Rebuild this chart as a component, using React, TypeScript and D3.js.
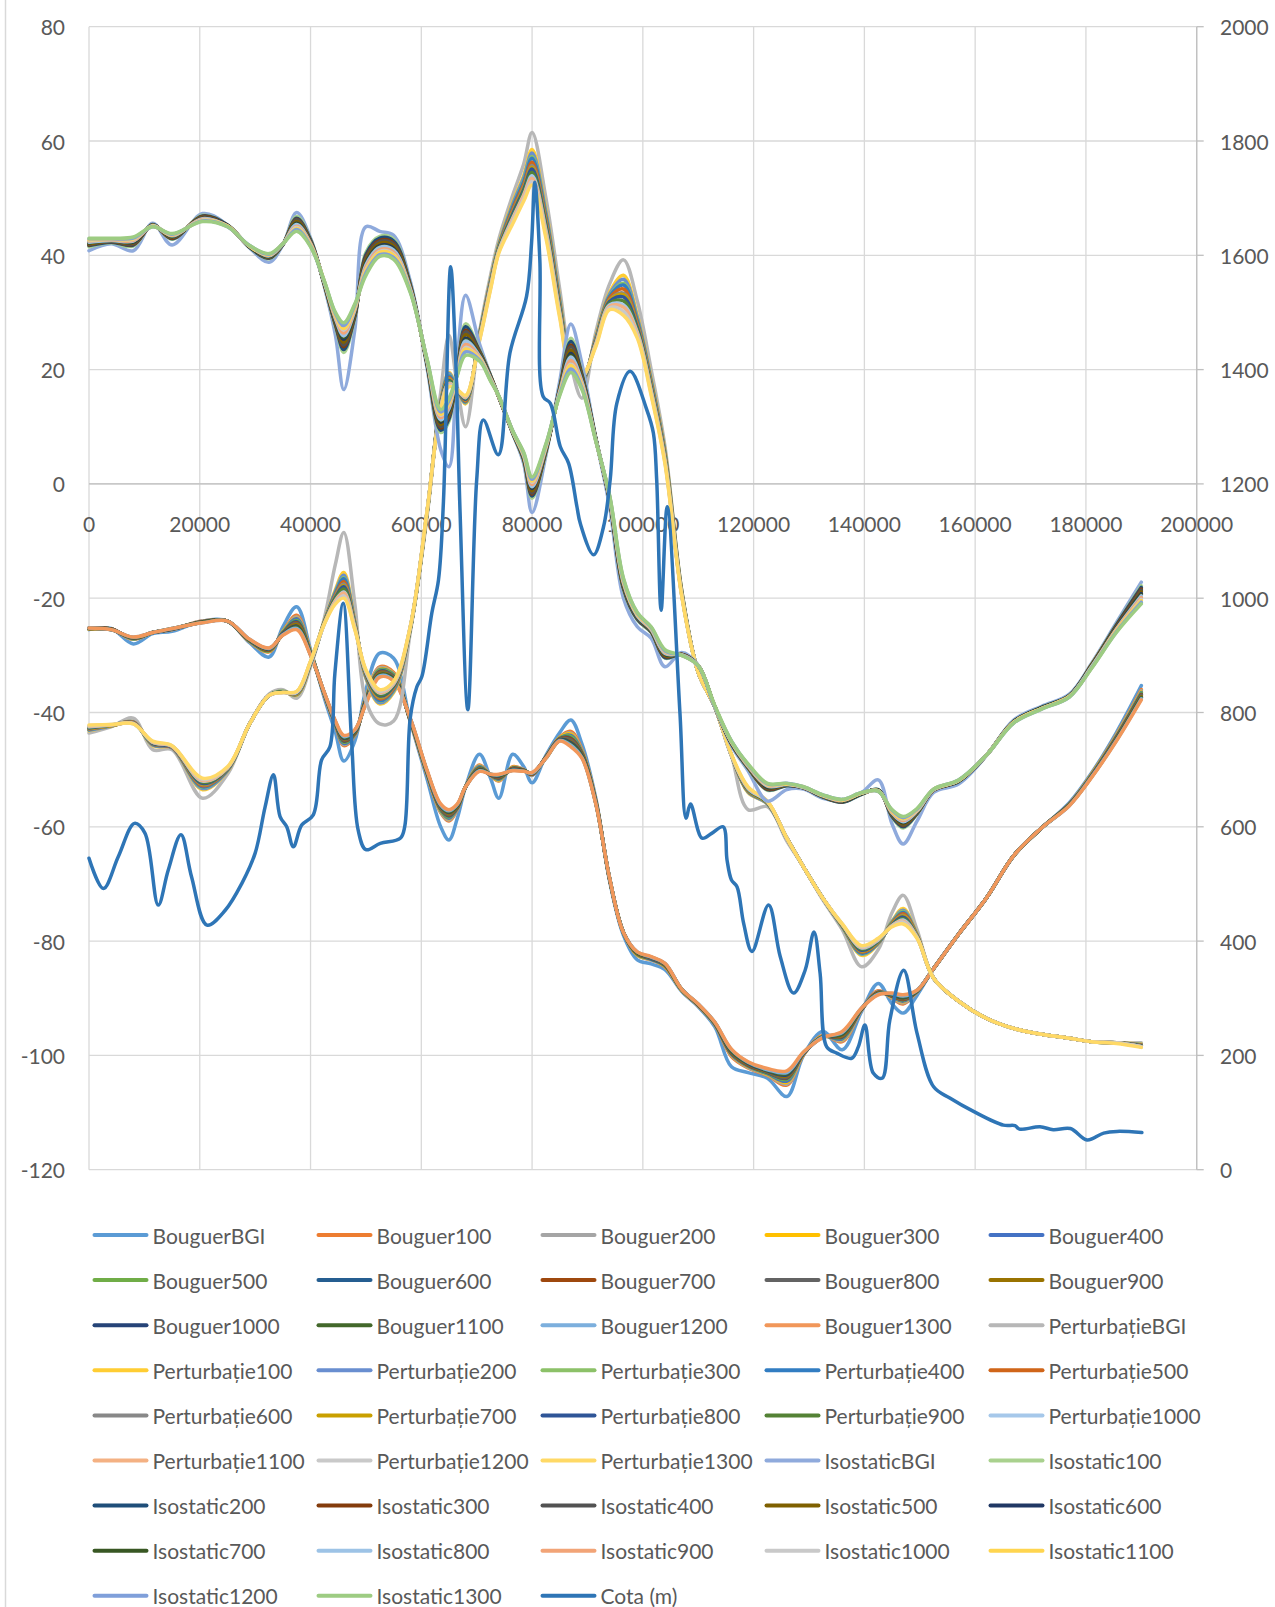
import React, { useEffect, useRef } from "react";
import * as d3 from "d3";

const W = 1275;
const H = 1607;

// distance along the profile (m), shared by the gravity series
const distance = [
  0, 4000, 8000, 11500, 15000, 20500, 25000, 29000, 32500, 35000,
  37500, 40000, 42500, 44500, 46000, 48000, 50000, 52500, 55000, 58000,
  61000, 63500, 65000, 66500, 68000, 70500, 72500, 74000, 76500, 78500,
  80000, 82500, 85000, 87000, 89000, 91500, 94000, 96500, 99000, 101500,
  104000, 107000, 110000, 113000, 116000, 119000, 122500, 126000, 129000, 132500,
  136000, 139500, 142500, 145000, 147000, 149500, 152500, 157000, 162000, 167000,
  172000, 177000, 181000, 185500, 190000,
];

const levels = ["BGI", "100", "200", "300", "400", "500", "600", "700", "800", "900", "1000", "1100", "1200", "1300"];

const bouguerColors = ["#5B9BD5", "#ED7D31", "#A5A5A5", "#FFC000", "#4472C4", "#70AD47", "#255E91", "#9E480E", "#636363", "#997300", "#264478", "#43682B", "#7CAFDD", "#F1975A"];
const perturbatieColors = ["#B7B7B7", "#FFCD33", "#698ED0", "#8CC168", "#327DC2", "#D06519", "#888888", "#C9A000", "#2F5597", "#548235", "#A6C8EA", "#F4B183", "#C9C9C9", "#FFD966"];
const isostaticColors = ["#8FAADC", "#A9D18E", "#1F4E79", "#843C0C", "#525252", "#7F6000", "#203864", "#385723", "#9DC3E6", "#F2A477", "#C9C9C9", "#FFD54F", "#7F9FDA", "#9DCC82"];
const cotaColor = "#2E75B6";

// one row per distance: BGI, 100 ... 1300
const bouguerRows = [
  [-25.5, -25.4, -25.4, -25.4, -25.3, -25.3, -25.3, -25.3, -25.3, -25.3, -25.2, -25.2, -25.2, -25.2],
  [-25.3, -25.4, -25.4, -25.4, -25.4, -25.4, -25.4, -25.4, -25.5, -25.5, -25.5, -25.5, -25.5, -25.5],
  [-28.0, -27.2, -27.2, -27.1, -27.1, -27.1, -27.0, -27.0, -27.0, -26.9, -26.9, -26.9, -26.8, -26.8],
  [-26.2, -26.0, -26.0, -26.0, -26.0, -26.0, -26.0, -26.0, -26.0, -26.0, -26.0, -26.0, -26.0, -26.0],
  [-25.8, -25.5, -25.5, -25.5, -25.5, -25.4, -25.4, -25.4, -25.4, -25.4, -25.4, -25.3, -25.3, -25.3],
  [-24.0, -24.0, -24.0, -24.1, -24.1, -24.1, -24.1, -24.1, -24.2, -24.2, -24.2, -24.2, -24.3, -24.3],
  [-24.0, -24.0, -24.0, -24.0, -24.0, -24.0, -24.0, -24.0, -24.0, -24.0, -24.0, -24.0, -24.0, -24.0],
  [-27.8, -27.6, -27.6, -27.5, -27.5, -27.5, -27.4, -27.4, -27.4, -27.3, -27.3, -27.3, -27.2, -27.2],
  [-30.3, -29.4, -29.3, -29.3, -29.2, -29.2, -29.1, -29.1, -29.0, -29.0, -28.9, -28.8, -28.8, -28.7],
  [-25.0, -25.8, -25.9, -25.9, -26.0, -26.0, -26.1, -26.2, -26.2, -26.3, -26.3, -26.4, -26.4, -26.5],
  [-21.5, -23.0, -23.3, -23.5, -23.6, -23.9, -24.1, -24.3, -24.4, -24.6, -24.9, -25.0, -25.3, -25.5],
  [-29.0, -29.3, -29.4, -29.4, -29.5, -29.5, -29.6, -29.7, -29.7, -29.8, -29.8, -29.9, -29.9, -30.0],
  [-37.5, -37.0, -37.0, -36.9, -36.9, -36.8, -36.8, -36.8, -36.7, -36.7, -36.6, -36.6, -36.6, -36.5],
  [-43.5, -42.3, -42.2, -42.1, -42.1, -42.0, -41.9, -41.9, -41.9, -41.8, -41.7, -41.7, -41.6, -41.5],
  [-48.5, -45.8, -45.6, -45.4, -45.4, -45.2, -45.0, -44.9, -44.8, -44.6, -44.5, -44.4, -44.2, -44.0],
  [-45.0, -44.0, -43.9, -43.8, -43.8, -43.7, -43.6, -43.6, -43.5, -43.4, -43.3, -43.2, -43.1, -43.0],
  [-36.0, -37.3, -37.4, -37.5, -37.6, -37.7, -37.8, -37.9, -38.0, -38.1, -38.2, -38.3, -38.4, -38.5],
  [-29.6, -32.0, -32.2, -32.4, -32.5, -32.6, -32.8, -32.9, -33.0, -33.2, -33.4, -33.4, -33.6, -33.8],
  [-30.5, -33.0, -33.2, -33.3, -33.4, -33.5, -33.7, -33.8, -33.8, -34.0, -34.1, -34.2, -34.4, -34.5],
  [-41.5, -41.5, -41.5, -41.4, -41.4, -41.3, -41.3, -41.3, -41.2, -41.2, -41.1, -41.1, -41.0, -41.0],
  [-51.5, -50.8, -50.7, -50.6, -50.6, -50.5, -50.4, -50.4, -50.4, -50.3, -50.2, -50.2, -50.1, -50.0],
  [-60.0, -57.5, -57.4, -57.2, -57.1, -57.0, -56.8, -56.8, -56.7, -56.5, -56.4, -56.3, -56.2, -56.0],
  [-62.3, -59.0, -58.8, -58.6, -58.5, -58.3, -58.1, -58.0, -57.9, -57.7, -57.5, -57.4, -57.2, -57.0],
  [-58.5, -57.0, -56.9, -56.8, -56.8, -56.7, -56.6, -56.6, -56.5, -56.4, -56.3, -56.2, -56.1, -56.0],
  [-53.0, -53.0, -53.0, -53.0, -53.0, -53.0, -53.0, -53.0, -53.0, -53.0, -53.0, -53.0, -53.0, -53.0],
  [-47.3, -49.2, -49.3, -49.4, -49.5, -49.6, -49.7, -49.8, -49.8, -49.9, -50.0, -50.1, -50.2, -50.3],
  [-51.5, -51.0, -51.0, -51.0, -51.0, -50.9, -50.9, -50.9, -50.9, -50.9, -50.9, -50.8, -50.8, -50.8],
  [-55.0, -52.0, -51.9, -51.8, -51.7, -51.6, -51.5, -51.4, -51.3, -51.2, -51.1, -51.0, -50.9, -50.8],
  [-47.3, -49.5, -49.6, -49.6, -49.7, -49.7, -49.8, -49.8, -49.9, -50.0, -50.0, -50.1, -50.1, -50.2],
  [-49.5, -50.0, -50.0, -50.1, -50.1, -50.1, -50.1, -50.1, -50.2, -50.2, -50.2, -50.2, -50.3, -50.3],
  [-52.3, -51.0, -51.0, -50.9, -50.9, -50.8, -50.8, -50.8, -50.7, -50.7, -50.6, -50.6, -50.6, -50.5],
  [-47.5, -47.8, -47.8, -47.8, -47.8, -47.8, -47.8, -47.8, -47.9, -47.9, -47.9, -48.0, -48.0, -48.0],
  [-43.5, -44.3, -44.4, -44.4, -44.5, -44.5, -44.6, -44.6, -44.7, -44.8, -44.8, -44.9, -44.9, -45.0],
  [-41.3, -43.3, -43.6, -43.8, -44.0, -44.2, -44.5, -44.6, -44.8, -45.1, -45.3, -45.5, -45.7, -46.0],
  [-45.5, -46.5, -46.7, -46.8, -46.9, -47.0, -47.2, -47.2, -47.3, -47.5, -47.6, -47.7, -47.9, -48.0],
  [-55.0, -55.3, -55.4, -55.4, -55.5, -55.5, -55.6, -55.6, -55.7, -55.8, -55.8, -55.9, -55.9, -56.0],
  [-69.5, -69.2, -69.2, -69.2, -69.2, -69.1, -69.1, -69.1, -69.1, -69.1, -69.1, -69.0, -69.0, -69.0],
  [-79.0, -78.5, -78.5, -78.5, -78.5, -78.5, -78.5, -78.5, -78.5, -78.5, -78.5, -78.5, -78.5, -78.5],
  [-83.3, -82.5, -82.4, -82.4, -82.3, -82.3, -82.2, -82.2, -82.1, -82.1, -82.0, -82.0, -81.9, -81.9],
  [-84.0, -83.3, -83.3, -83.2, -83.2, -83.1, -83.1, -83.0, -83.0, -82.9, -82.9, -82.8, -82.8, -82.7],
  [-85.0, -84.5, -84.4, -84.4, -84.3, -84.3, -84.2, -84.2, -84.1, -84.1, -84.0, -84.0, -83.9, -83.9],
  [-88.8, -88.6, -88.6, -88.6, -88.5, -88.5, -88.5, -88.5, -88.5, -88.5, -88.4, -88.4, -88.4, -88.4],
  [-91.5, -91.3, -91.3, -91.2, -91.2, -91.2, -91.2, -91.2, -91.1, -91.1, -91.1, -91.1, -91.0, -91.0],
  [-95.0, -94.6, -94.6, -94.5, -94.5, -94.5, -94.4, -94.4, -94.4, -94.3, -94.3, -94.3, -94.2, -94.2],
  [-102.0, -100.2, -100.0, -99.9, -99.8, -99.7, -99.6, -99.6, -99.5, -99.4, -99.3, -99.2, -99.0, -98.9],
  [-103.0, -102.2, -102.1, -102.0, -101.9, -101.8, -101.7, -101.7, -101.6, -101.5, -101.4, -101.3, -101.2, -101.1],
  [-104.0, -103.5, -103.4, -103.3, -103.2, -103.1, -103.0, -102.9, -102.9, -102.8, -102.7, -102.6, -102.5, -102.3],
  [-107.2, -105.2, -105.0, -104.7, -104.5, -104.2, -104.0, -103.9, -103.8, -103.6, -103.4, -103.2, -103.0, -102.7],
  [-100.0, -99.9, -99.8, -99.8, -99.7, -99.7, -99.7, -99.7, -99.6, -99.6, -99.6, -99.5, -99.5, -99.4],
  [-95.8, -96.5, -96.6, -96.6, -96.7, -96.7, -96.7, -96.7, -96.7, -96.7, -96.8, -96.8, -96.8, -96.9],
  [-99.0, -97.6, -97.4, -97.2, -97.1, -96.9, -96.8, -96.7, -96.6, -96.5, -96.3, -96.2, -96.0, -95.8],
  [-92.3, -92.0, -92.0, -91.9, -91.9, -91.9, -91.9, -91.9, -91.8, -91.8, -91.8, -91.8, -91.7, -91.7],
  [-87.4, -88.7, -88.8, -88.9, -88.9, -89.0, -89.0, -89.0, -89.1, -89.1, -89.2, -89.2, -89.3, -89.4],
  [-91.0, -90.0, -89.9, -89.8, -89.7, -89.6, -89.6, -89.6, -89.5, -89.5, -89.4, -89.3, -89.2, -89.1],
  [-92.6, -91.0, -90.8, -90.6, -90.5, -90.3, -90.2, -90.2, -90.1, -90.0, -89.9, -89.8, -89.6, -89.4],
  [-89.5, -88.9, -88.9, -88.8, -88.8, -88.8, -88.8, -88.8, -88.7, -88.7, -88.7, -88.7, -88.6, -88.6],
  [-84.8, -84.8, -84.8, -84.8, -84.8, -84.8, -84.8, -84.8, -84.8, -84.8, -84.8, -84.8, -84.8, -84.8],
  [-78.8, -78.8, -78.8, -78.8, -78.8, -78.8, -78.8, -78.8, -78.8, -78.8, -78.8, -78.8, -78.8, -78.8],
  [-72.5, -72.5, -72.5, -72.5, -72.5, -72.5, -72.5, -72.5, -72.5, -72.5, -72.5, -72.5, -72.5, -72.5],
  [-65.0, -65.0, -65.0, -65.0, -65.0, -65.0, -65.0, -65.0, -65.0, -65.0, -65.0, -65.0, -65.0, -65.0],
  [-60.2, -60.2, -60.2, -60.2, -60.2, -60.2, -60.2, -60.2, -60.2, -60.2, -60.2, -60.2, -60.2, -60.2],
  [-55.8, -56.0, -56.0, -56.1, -56.1, -56.1, -56.1, -56.1, -56.2, -56.2, -56.2, -56.2, -56.3, -56.3],
  [-50.6, -50.8, -50.9, -50.9, -51.0, -51.0, -51.1, -51.1, -51.1, -51.2, -51.2, -51.3, -51.3, -51.4],
  [-43.5, -43.9, -44.0, -44.1, -44.2, -44.3, -44.4, -44.4, -44.5, -44.6, -44.7, -44.8, -44.9, -45.0],
  [-35.3, -36.0, -36.2, -36.4, -36.5, -36.6, -36.8, -36.9, -37.0, -37.2, -37.4, -37.4, -37.6, -37.8],
];

const perturbatieRows = [
  [-43.6, -43.2, -43.1, -43.0, -43.0, -42.9, -42.8, -42.8, -42.7, -42.6, -42.5, -42.4, -42.3, -42.2],
  [-42.5, -42.4, -42.4, -42.3, -42.3, -42.3, -42.3, -42.3, -42.2, -42.2, -42.2, -42.2, -42.1, -42.1],
  [-41.0, -41.6, -41.6, -41.7, -41.7, -41.7, -41.8, -41.8, -41.8, -41.9, -41.9, -41.9, -42.0, -42.0],
  [-46.5, -45.8, -45.7, -45.6, -45.6, -45.5, -45.4, -45.4, -45.4, -45.3, -45.2, -45.2, -45.1, -45.0],
  [-46.5, -46.2, -46.2, -46.1, -46.1, -46.1, -46.0, -46.0, -46.0, -45.9, -45.9, -45.9, -45.8, -45.8],
  [-55.0, -53.5, -53.3, -53.1, -53.0, -52.8, -52.6, -52.5, -52.4, -52.2, -52.0, -51.9, -51.7, -51.5],
  [-50.8, -50.3, -50.2, -50.1, -50.1, -50.0, -49.9, -49.9, -49.9, -49.8, -49.7, -49.7, -49.6, -49.5],
  [-42.0, -42.0, -42.0, -42.0, -42.0, -42.0, -42.0, -42.0, -42.0, -42.0, -42.0, -42.0, -42.0, -42.0],
  [-36.8, -37.0, -37.0, -37.0, -37.0, -37.0, -37.0, -37.0, -37.0, -37.0, -37.0, -37.0, -37.0, -37.0],
  [-36.0, -36.3, -36.3, -36.3, -36.4, -36.4, -36.4, -36.4, -36.4, -36.4, -36.5, -36.5, -36.5, -36.5],
  [-37.5, -37.0, -36.9, -36.9, -36.8, -36.8, -36.7, -36.7, -36.6, -36.5, -36.5, -36.4, -36.4, -36.3],
  [-32.0, -31.6, -31.5, -31.5, -31.5, -31.4, -31.3, -31.3, -31.3, -31.2, -31.2, -31.1, -31.1, -31.0],
  [-23.5, -24.0, -24.1, -24.1, -24.1, -24.2, -24.2, -24.2, -24.3, -24.3, -24.4, -24.4, -24.5, -24.5],
  [-14.0, -18.5, -18.8, -19.0, -19.1, -19.4, -19.6, -19.8, -19.9, -20.1, -20.4, -20.5, -20.8, -21.0],
  [-8.5, -15.5, -16.0, -16.4, -16.6, -17.1, -17.5, -17.8, -18.0, -18.4, -18.9, -19.1, -19.6, -20.0],
  [-21.0, -24.0, -24.2, -24.3, -24.4, -24.5, -24.7, -24.8, -24.8, -25.0, -25.1, -25.2, -25.4, -25.5],
  [-38.0, -34.0, -33.9, -33.7, -33.6, -33.5, -33.3, -33.3, -33.2, -33.0, -32.9, -32.8, -32.7, -32.5],
  [-42.0, -38.5, -38.3, -38.0, -37.9, -37.6, -37.4, -37.3, -37.1, -36.9, -36.6, -36.5, -36.3, -36.0],
  [-41.5, -36.5, -36.3, -36.1, -36.0, -35.8, -35.6, -35.5, -35.4, -35.2, -35.0, -34.9, -34.7, -34.5],
  [-26.0, -25.5, -25.5, -25.4, -25.4, -25.3, -25.3, -25.3, -25.2, -25.2, -25.1, -25.1, -25.0, -25.0],
  [-6.0, -5.5, -5.5, -5.4, -5.4, -5.3, -5.3, -5.3, -5.2, -5.2, -5.1, -5.1, -5.0, -5.0],
  [16.0, 14.5, 14.4, 14.2, 14.1, 14.0, 13.8, 13.8, 13.7, 13.5, 13.4, 13.3, 13.1, 13.0],
  [26.0, 19.5, 19.3, 19.0, 18.9, 18.6, 18.4, 18.3, 18.1, 17.9, 17.6, 17.5, 17.3, 17.0],
  [17.0, 16.5, 16.5, 16.5, 16.5, 16.5, 16.5, 16.5, 16.5, 16.5, 16.5, 16.5, 16.5, 16.5],
  [10.0, 14.0, 14.2, 14.3, 14.4, 14.5, 14.7, 14.7, 14.8, 15.0, 15.1, 15.2, 15.4, 15.5],
  [26.5, 26.3, 26.2, 26.0, 26.0, 25.8, 25.7, 25.7, 25.6, 25.5, 25.3, 25.3, 25.1, 25.0],
  [36.5, 35.8, 35.6, 35.4, 35.4, 35.2, 35.0, 34.9, 34.8, 34.6, 34.5, 34.4, 34.2, 34.0],
  [42.8, 42.0, 41.8, 41.7, 41.6, 41.4, 41.3, 41.2, 41.1, 41.0, 40.8, 40.7, 40.6, 40.4],
  [50.5, 49.3, 48.9, 48.5, 48.4, 48.0, 47.6, 47.4, 47.2, 46.8, 46.5, 46.3, 45.9, 45.5],
  [56.0, 54.0, 53.6, 53.1, 52.9, 52.4, 52.0, 51.8, 51.5, 51.1, 50.6, 50.4, 49.9, 49.5],
  [61.5, 58.5, 57.9, 57.3, 57.0, 56.3, 55.7, 55.4, 55.1, 54.5, 53.9, 53.5, 52.9, 52.3],
  [50.0, 48.0, 47.5, 47.0, 46.8, 46.3, 45.8, 45.6, 45.3, 44.8, 44.3, 44.0, 43.5, 43.0],
  [34.0, 32.5, 32.2, 31.8, 31.6, 31.3, 30.9, 30.8, 30.6, 30.2, 29.9, 29.7, 29.4, 29.0],
  [21.0, 21.0, 20.9, 20.8, 20.8, 20.7, 20.6, 20.6, 20.5, 20.4, 20.3, 20.2, 20.1, 20.0],
  [15.0, 17.8, 17.9, 18.0, 18.1, 18.2, 18.3, 18.4, 18.5, 18.6, 18.7, 18.8, 18.9, 19.0],
  [26.5, 25.8, 25.6, 25.4, 25.4, 25.2, 25.0, 24.9, 24.8, 24.6, 24.5, 24.4, 24.2, 24.0],
  [35.0, 33.5, 33.2, 32.9, 32.8, 32.5, 32.2, 32.1, 31.9, 31.6, 31.3, 31.1, 30.8, 30.5],
  [39.2, 36.5, 35.8, 35.1, 34.8, 34.1, 33.4, 33.1, 32.7, 32.0, 31.3, 30.9, 30.2, 29.5],
  [32.0, 29.5, 29.1, 28.7, 28.5, 28.1, 27.7, 27.5, 27.3, 26.9, 26.5, 26.3, 25.9, 25.5],
  [20.0, 18.5, 18.2, 17.9, 17.8, 17.5, 17.2, 17.1, 16.9, 16.6, 16.3, 16.1, 15.8, 15.5],
  [6.5, 5.8, 5.6, 5.3, 5.2, 5.0, 4.8, 4.7, 4.5, 4.3, 4.1, 4.0, 3.7, 3.5],
  [-18.5, -18.5, -18.6, -18.7, -18.8, -18.9, -19.0, -19.0, -19.1, -19.2, -19.3, -19.3, -19.4, -19.5],
  [-33.0, -33.0, -33.0, -33.0, -33.0, -33.0, -33.0, -33.0, -33.0, -33.0, -33.0, -33.0, -33.0, -33.0],
  [-39.0, -39.0, -39.0, -39.0, -39.0, -39.0, -39.0, -39.0, -39.0, -39.0, -39.0, -39.0, -39.0, -39.0],
  [-47.5, -47.5, -47.5, -47.5, -47.5, -47.5, -47.5, -47.5, -47.5, -47.5, -47.5, -47.5, -47.5, -47.3],
  [-57.0, -54.0, -53.9, -53.8, -53.8, -53.7, -53.6, -53.6, -53.5, -53.4, -53.3, -53.2, -53.1, -53.0],
  [-56.5, -56.0, -56.0, -55.9, -55.9, -55.8, -55.8, -55.8, -55.7, -55.7, -55.6, -55.6, -55.6, -55.5],
  [-62.5, -62.0, -62.0, -62.0, -62.0, -62.0, -62.0, -62.0, -62.0, -62.0, -62.0, -62.0, -62.0, -62.0],
  [-67.0, -67.0, -67.0, -67.0, -67.0, -67.0, -67.0, -67.0, -67.0, -67.0, -67.0, -67.0, -67.0, -67.0],
  [-72.8, -72.5, -72.5, -72.5, -72.5, -72.5, -72.5, -72.5, -72.5, -72.5, -72.5, -72.5, -72.5, -72.5],
  [-78.0, -77.5, -77.5, -77.4, -77.4, -77.3, -77.3, -77.3, -77.2, -77.2, -77.1, -77.1, -77.0, -77.0],
  [-84.5, -82.5, -82.3, -82.2, -82.1, -81.9, -81.7, -81.7, -81.6, -81.4, -81.2, -81.1, -81.0, -80.8],
  [-81.5, -80.5, -80.4, -80.3, -80.3, -80.2, -80.1, -80.1, -80.0, -79.9, -79.8, -79.7, -79.6, -79.5],
  [-75.0, -76.5, -76.6, -76.7, -76.8, -76.9, -77.0, -77.0, -77.1, -77.2, -77.3, -77.3, -77.4, -77.5],
  [-72.0, -74.3, -74.6, -74.8, -75.0, -75.2, -75.5, -75.6, -75.8, -76.1, -76.3, -76.5, -76.7, -77.0],
  [-78.0, -78.8, -78.9, -78.9, -79.0, -79.0, -79.1, -79.1, -79.2, -79.3, -79.3, -79.4, -79.4, -79.5],
  [-86.5, -86.5, -86.5, -86.5, -86.5, -86.5, -86.5, -86.5, -86.5, -86.5, -86.5, -86.5, -86.5, -86.5],
  [-90.5, -90.5, -90.5, -90.5, -90.5, -90.5, -90.5, -90.5, -90.5, -90.5, -90.5, -90.5, -90.5, -90.5],
  [-93.5, -93.5, -93.5, -93.5, -93.5, -93.5, -93.5, -93.5, -93.5, -93.5, -93.5, -93.5, -93.5, -93.5],
  [-95.3, -95.3, -95.3, -95.3, -95.3, -95.3, -95.3, -95.3, -95.3, -95.3, -95.3, -95.3, -95.3, -95.3],
  [-96.3, -96.3, -96.3, -96.3, -96.3, -96.3, -96.3, -96.3, -96.3, -96.3, -96.3, -96.3, -96.3, -96.3],
  [-97.0, -97.0, -97.0, -97.0, -97.0, -97.0, -97.0, -97.0, -97.0, -97.0, -97.0, -97.0, -97.0, -97.0],
  [-97.6, -97.6, -97.6, -97.6, -97.6, -97.6, -97.6, -97.6, -97.6, -97.6, -97.6, -97.6, -97.6, -97.6],
  [-97.8, -97.8, -97.8, -97.8, -97.8, -97.8, -97.8, -97.8, -97.8, -97.8, -97.8, -97.8, -97.8, -97.9],
  [-97.8, -98.0, -98.1, -98.1, -98.2, -98.2, -98.3, -98.3, -98.3, -98.4, -98.5, -98.5, -98.5, -98.6],
];

const isostaticRows = [
  [40.8, 41.5, 41.7, 41.8, 41.9, 42.0, 42.2, 42.2, 42.3, 42.5, 42.6, 42.7, 42.9, 43.0],
  [42.0, 42.2, 42.3, 42.4, 42.4, 42.5, 42.6, 42.6, 42.6, 42.7, 42.8, 42.8, 42.9, 43.0],
  [40.8, 41.6, 41.8, 41.9, 42.0, 42.2, 42.3, 42.4, 42.5, 42.6, 42.8, 42.9, 43.0, 43.2],
  [45.6, 45.4, 45.4, 45.3, 45.3, 45.3, 45.2, 45.2, 45.2, 45.1, 45.1, 45.1, 45.0, 45.0],
  [41.8, 42.8, 42.9, 43.0, 43.1, 43.2, 43.3, 43.3, 43.4, 43.5, 43.6, 43.6, 43.7, 43.8],
  [47.3, 47.0, 46.9, 46.8, 46.7, 46.6, 46.5, 46.4, 46.4, 46.3, 46.2, 46.1, 46.0, 45.9],
  [45.3, 45.3, 45.3, 45.2, 45.2, 45.2, 45.2, 45.1, 45.1, 45.1, 45.1, 45.1, 45.0, 45.0],
  [41.3, 41.4, 41.4, 41.5, 41.5, 41.5, 41.5, 41.5, 41.6, 41.6, 41.6, 41.6, 41.7, 41.7],
  [38.8, 39.4, 39.5, 39.6, 39.6, 39.7, 39.8, 39.8, 39.9, 40.0, 40.1, 40.1, 40.2, 40.3],
  [41.8, 41.9, 41.9, 41.9, 41.9, 41.9, 41.9, 42.0, 42.0, 42.0, 42.0, 42.0, 42.0, 42.0],
  [47.5, 46.8, 46.5, 46.3, 46.2, 45.9, 45.6, 45.5, 45.4, 45.1, 44.9, 44.7, 44.5, 44.2],
  [43.0, 42.8, 42.7, 42.5, 42.5, 42.3, 42.2, 42.1, 42.1, 42.0, 41.8, 41.8, 41.6, 41.5],
  [34.5, 34.8, 34.9, 34.9, 35.0, 35.0, 35.1, 35.1, 35.2, 35.3, 35.3, 35.4, 35.4, 35.5],
  [26.0, 27.5, 27.8, 28.0, 28.1, 28.4, 28.6, 28.7, 28.9, 29.1, 29.4, 29.5, 29.8, 30.0],
  [16.5, 23.0, 23.5, 24.0, 24.3, 24.8, 25.3, 25.6, 25.9, 26.4, 26.9, 27.2, 27.7, 28.2],
  [27.0, 29.0, 29.3, 29.5, 29.6, 29.9, 30.1, 30.2, 30.4, 30.6, 30.9, 31.0, 31.3, 31.5],
  [45.0, 40.5, 40.1, 39.7, 39.5, 39.1, 38.7, 38.5, 38.3, 37.9, 37.5, 37.3, 36.9, 36.5],
  [44.2, 43.3, 43.0, 42.6, 42.4, 42.1, 41.7, 41.5, 41.4, 41.0, 40.7, 40.5, 40.1, 39.8],
  [43.5, 42.8, 42.5, 42.1, 41.9, 41.6, 41.2, 41.0, 40.9, 40.5, 40.2, 40.0, 39.6, 39.3],
  [35.5, 35.0, 34.9, 34.7, 34.6, 34.5, 34.3, 34.2, 34.2, 34.0, 33.9, 33.8, 33.7, 33.5],
  [20.5, 21.0, 21.1, 21.2, 21.3, 21.4, 21.5, 21.5, 21.6, 21.7, 21.8, 21.8, 21.9, 22.0],
  [6.0, 9.0, 9.4, 9.8, 10.0, 10.4, 10.8, 11.0, 11.2, 11.6, 12.0, 12.2, 12.6, 13.0],
  [3.0, 11.0, 11.4, 11.8, 12.0, 12.4, 12.8, 13.0, 13.2, 13.6, 14.0, 14.2, 14.6, 15.0],
  [22.0, 20.0, 19.9, 19.8, 19.8, 19.7, 19.6, 19.5, 19.5, 19.4, 19.3, 19.2, 19.1, 19.0],
  [33.0, 28.0, 27.5, 26.9, 26.6, 26.1, 25.5, 25.2, 25.0, 24.4, 23.9, 23.6, 23.1, 22.5],
  [24.5, 23.5, 23.3, 23.1, 23.0, 22.8, 22.6, 22.5, 22.4, 22.2, 22.0, 21.9, 21.7, 21.5],
  [19.0, 19.0, 18.9, 18.8, 18.8, 18.7, 18.6, 18.5, 18.5, 18.4, 18.3, 18.2, 18.1, 18.0],
  [15.2, 15.2, 15.2, 15.2, 15.2, 15.2, 15.2, 15.3, 15.3, 15.3, 15.3, 15.3, 15.4, 15.4],
  [8.8, 8.9, 8.9, 9.0, 9.0, 9.0, 9.1, 9.1, 9.1, 9.2, 9.2, 9.2, 9.3, 9.3],
  [3.5, 4.0, 4.2, 4.3, 4.4, 4.5, 4.7, 4.7, 4.8, 5.0, 5.1, 5.2, 5.4, 5.5],
  [-5.0, -2.5, -2.1, -1.8, -1.6, -1.2, -0.8, -0.6, -0.5, -0.1, 0.3, 0.5, 0.8, 1.2],
  [5.0, 5.5, 5.7, 5.8, 5.9, 6.0, 6.2, 6.2, 6.3, 6.5, 6.6, 6.7, 6.9, 7.0],
  [18.0, 17.0, 16.9, 16.7, 16.6, 16.5, 16.3, 16.2, 16.2, 16.0, 15.9, 15.8, 15.7, 15.5],
  [28.0, 25.5, 24.9, 24.3, 24.0, 23.4, 22.8, 22.5, 22.2, 21.6, 21.0, 20.7, 20.1, 19.5],
  [21.0, 19.5, 19.2, 18.9, 18.8, 18.5, 18.2, 18.0, 17.9, 17.6, 17.3, 17.1, 16.8, 16.5],
  [8.0, 8.0, 8.0, 7.9, 7.9, 7.8, 7.8, 7.8, 7.7, 7.7, 7.6, 7.6, 7.6, 7.5],
  [-4.0, -3.0, -2.9, -2.8, -2.8, -2.7, -2.6, -2.6, -2.5, -2.4, -2.3, -2.2, -2.1, -2.0],
  [-20.0, -18.5, -18.3, -18.1, -18.0, -17.8, -17.6, -17.5, -17.4, -17.2, -17.0, -16.9, -16.7, -16.5],
  [-25.0, -23.8, -23.7, -23.5, -23.5, -23.3, -23.2, -23.2, -23.1, -22.9, -22.8, -22.8, -22.6, -22.5],
  [-27.0, -26.0, -25.9, -25.8, -25.8, -25.7, -25.6, -25.6, -25.5, -25.4, -25.3, -25.2, -25.1, -25.0],
  [-32.0, -30.5, -30.4, -30.2, -30.1, -30.0, -29.8, -29.8, -29.7, -29.5, -29.4, -29.3, -29.2, -29.0],
  [-29.5, -29.8, -29.8, -29.8, -29.9, -29.9, -29.9, -29.9, -29.9, -29.9, -30.0, -30.0, -30.0, -30.0],
  [-31.8, -31.8, -31.8, -31.8, -31.8, -31.8, -31.8, -31.8, -31.8, -31.8, -31.8, -31.8, -31.8, -31.8],
  [-39.0, -39.0, -39.0, -39.0, -39.0, -39.0, -39.0, -39.0, -39.0, -39.0, -39.0, -39.0, -39.0, -38.8],
  [-45.8, -45.5, -45.5, -45.4, -45.4, -45.3, -45.3, -45.3, -45.2, -45.2, -45.1, -45.1, -45.0, -45.0],
  [-50.2, -49.8, -49.7, -49.6, -49.6, -49.5, -49.4, -49.4, -49.4, -49.3, -49.2, -49.2, -49.1, -49.0],
  [-55.5, -53.6, -53.5, -53.4, -53.3, -53.2, -53.1, -53.0, -52.9, -52.8, -52.7, -52.6, -52.5, -52.4],
  [-53.5, -52.8, -52.8, -52.7, -52.7, -52.7, -52.6, -52.6, -52.6, -52.5, -52.5, -52.5, -52.4, -52.4],
  [-53.4, -53.2, -53.2, -53.2, -53.2, -53.1, -53.1, -53.1, -53.1, -53.1, -53.1, -53.0, -53.0, -53.0],
  [-55.0, -54.8, -54.8, -54.7, -54.7, -54.7, -54.6, -54.6, -54.6, -54.5, -54.5, -54.5, -54.4, -54.4],
  [-55.4, -55.7, -55.7, -55.6, -55.6, -55.5, -55.5, -55.5, -55.4, -55.4, -55.3, -55.3, -55.2, -55.2],
  [-54.0, -54.3, -54.3, -54.2, -54.2, -54.2, -54.2, -54.2, -54.1, -54.1, -54.1, -54.1, -54.0, -54.0],
  [-51.8, -53.5, -53.5, -53.6, -53.6, -53.6, -53.6, -53.6, -53.7, -53.7, -53.7, -53.7, -53.8, -53.8],
  [-59.5, -58.3, -58.2, -58.0, -58.0, -57.8, -57.7, -57.7, -57.6, -57.5, -57.3, -57.3, -57.1, -57.0],
  [-63.0, -60.2, -60.0, -59.8, -59.7, -59.5, -59.3, -59.2, -59.1, -58.9, -58.7, -58.6, -58.4, -58.2],
  [-59.0, -57.8, -57.7, -57.6, -57.6, -57.5, -57.4, -57.4, -57.3, -57.2, -57.1, -57.0, -56.9, -56.8],
  [-54.0, -53.6, -53.6, -53.6, -53.6, -53.5, -53.5, -53.5, -53.5, -53.5, -53.5, -53.4, -53.4, -53.4],
  [-52.5, -52.1, -52.1, -52.0, -52.0, -52.0, -52.0, -52.0, -51.9, -51.9, -51.9, -51.9, -51.8, -51.8],
  [-47.6, -47.5, -47.5, -47.5, -47.5, -47.5, -47.5, -47.5, -47.5, -47.5, -47.5, -47.5, -47.5, -47.5],
  [-41.3, -41.5, -41.5, -41.6, -41.6, -41.6, -41.6, -41.6, -41.7, -41.7, -41.7, -41.7, -41.8, -41.8],
  [-38.9, -39.1, -39.1, -39.2, -39.2, -39.2, -39.2, -39.2, -39.3, -39.3, -39.3, -39.3, -39.4, -39.4],
  [-36.8, -37.0, -37.0, -37.1, -37.1, -37.1, -37.1, -37.1, -37.2, -37.2, -37.2, -37.2, -37.3, -37.3],
  [-31.4, -31.6, -31.7, -31.7, -31.8, -31.8, -31.9, -31.9, -32.0, -32.1, -32.1, -32.2, -32.2, -32.3],
  [-24.3, -24.6, -24.7, -24.9, -25.0, -25.1, -25.2, -25.3, -25.4, -25.5, -25.7, -25.7, -25.9, -26.0],
  [-17.2, -17.8, -18.1, -18.4, -18.6, -18.9, -19.2, -19.4, -19.6, -19.9, -20.2, -20.4, -20.7, -21.0],
];

// terrain elevation, right axis
const cotaDistance = [
  0, 2600, 5300, 8200, 10100, 12500, 14300, 16600, 18500, 21300, 24600, 27600, 30000, 31800, 33300,
  34500, 35700, 36900, 38400, 40500, 42000, 43500, 44400, 45900, 47400, 48600, 50000, 52600, 56200,
  57000, 58000, 59200, 60100, 61900, 63100, 64000, 65300, 66200, 67000, 68400, 70000, 71200, 73900,
  76000, 79000, 79900, 80500, 81400, 82000, 83300, 85100, 86600, 88100, 88700, 91100, 92900, 94100,
  95300, 97700, 100700, 101900, 102500, 103300, 104400, 106700, 107800, 108600, 110700, 112500,
  114500, 115200, 116000, 117000, 118200, 119700, 122700, 124800, 127200, 129300, 130900, 132000,
  133200, 135000, 137700, 138900, 140100, 141600, 143200, 144600, 147100, 149500, 152500, 155500,
  159700, 165100, 167200, 168000, 171700, 174100, 177200, 180200, 183200, 185600, 190100,
];
const cotaValues = [
  545, 492, 548, 606, 589, 463, 524, 586, 513, 428, 454, 501, 554, 635, 691,
  618, 600, 565, 603, 621, 717, 740, 869, 991, 752, 594, 560, 571, 580,
  600, 790, 845, 863, 974, 1032, 1170, 1580, 1420, 1150, 805, 1207, 1312, 1251,
  1429, 1528, 1621, 1728, 1592, 1353, 1341, 1265, 1236, 1160, 1131, 1076, 1125, 1207,
  1341, 1397, 1330, 1289, 1207, 979, 1160, 799, 615, 640, 580, 589,
  600, 542, 507, 495, 431, 382, 463, 373, 309, 349, 416, 344,
  215, 204, 195, 215, 253, 169, 160, 262, 349, 239, 145, 125,
  102, 78, 77, 71, 75, 70, 72, 52, 64, 67, 65,
];

const leftTicks = [80, 60, 40, 20, 0, -20, -40, -60, -80, -100, -120];
const rightTicks = [2000, 1800, 1600, 1400, 1200, 1000, 800, 600, 400, 200, 0];
const xTicks = [0, 20000, 40000, 60000, 80000, 100000, 120000, 140000, 160000, 180000, 200000];

const FONT = "Lato, 'Liberation Sans', Arial, sans-serif";
const TEXT = "#595959";

type Series = { name: string; color: string; pts: [number, number][]; right?: boolean };

const family = (prefix: string, colors: string[], rows: number[][]): Series[] =>
  levels.map((lv, k) => ({
    name: prefix + lv,
    color: colors[k],
    pts: distance.map((d, i) => [d, rows[i][k]] as [number, number]),
  }));

export default function App() {
  const ref = useRef<SVGSVGElement>(null);

  useEffect(() => {
    const svg = d3.select(ref.current);
    svg.selectAll("*").remove();

    const left = 89, right = 1196.7, top = 26.7, bottom = 1169.7;
    const x = d3.scaleLinear().domain([0, 200000]).range([left, right]);
    const yL = d3.scaleLinear().domain([-120, 80]).range([bottom, top]);
    const yR = d3.scaleLinear().domain([0, 2000]).range([bottom, top]);

    svg.append("rect").attr("width", W).attr("height", H).attr("fill", "#fff");
    // chart frame (only its left edge is inside the picture)
    svg.append("line").attr("x1", 5.5).attr("x2", 5.5).attr("y1", 0).attr("y2", H)
      .attr("stroke", "#d9d9d9").attr("stroke-width", 1.5);

    const grid = svg.append("g").attr("stroke", "#d9d9d9").attr("stroke-width", 1.3);
    grid.selectAll("line.h").data(leftTicks).join("line")
      .attr("x1", left).attr("x2", right)
      .attr("y1", (d) => yL(d)).attr("y2", (d) => yL(d));
    grid.selectAll("line.v").data(xTicks).join("line")
      .attr("x1", (d) => x(d)).attr("x2", (d) => x(d))
      .attr("y1", top).attr("y2", bottom);

    // axes
    svg.append("line").attr("x1", left).attr("x2", right).attr("y1", yL(0)).attr("y2", yL(0))
      .attr("stroke", "#bfbfbf").attr("stroke-width", 1.3);
    svg.append("line").attr("x1", right).attr("x2", right).attr("y1", top).attr("y2", bottom)
      .attr("stroke", "#bfbfbf").attr("stroke-width", 1.3);
    svg.append("g").selectAll("line").data(rightTicks).join("line")
      .attr("x1", right).attr("x2", right + 7)
      .attr("y1", (d) => yR(d)).attr("y2", (d) => yR(d))
      .attr("stroke", "#bfbfbf").attr("stroke-width", 1.3);

    const labels = svg.append("g").attr("font-family", FONT).attr("font-size", 21).attr("fill", TEXT);
    labels.selectAll("text.l").data(leftTicks).join("text")
      .attr("x", 65).attr("y", (d) => yL(d)).attr("text-anchor", "end")
      .attr("dominant-baseline", "central").text((d) => String(d));
    labels.selectAll("text.r").data(rightTicks).join("text")
      .attr("x", 1220).attr("y", (d) => yR(d)).attr("text-anchor", "start")
      .attr("dominant-baseline", "central").text((d) => String(d));
    labels.selectAll("text.x").data(xTicks).join("text")
      .attr("x", (d) => x(d)).attr("y", yL(0) + 40).attr("text-anchor", "middle")
      .attr("dominant-baseline", "central").text((d) => String(d));

    const series: Series[] = [
      ...family("Bouguer", bouguerColors, bouguerRows),
      ...family("Perturbație", perturbatieColors, perturbatieRows),
      ...family("Isostatic", isostaticColors, isostaticRows),
      {
        name: "Cota (m)",
        color: cotaColor,
        right: true,
        pts: cotaDistance.map((d, i) => [d, cotaValues[i]] as [number, number]),
      },
    ];

    const plot = svg.append("g").attr("fill", "none").attr("stroke-width", 3.5)
      .attr("stroke-linejoin", "round").attr("stroke-linecap", "round");
    series.forEach((s) => {
      const y = s.right ? yR : yL;
      const line = d3.line<[number, number]>()
        .defined((d) => d[1] != null && !isNaN(d[1]))
        .x((d) => x(d[0]))
        .y((d) => y(d[1]))
        .curve(d3.curveCatmullRom.alpha(0.5));
      plot.append("path").attr("d", line(s.pts)).attr("stroke", s.color);
    });

    // legend, 5 columns
    const legend = svg.append("g").attr("font-family", FONT).attr("font-size", 21).attr("fill", TEXT);
    series.forEach((s, i) => {
      const lx = 94.5 + (i % 5) * 224;
      const ly = 1235 + Math.floor(i / 5) * 45.1;
      legend.append("line").attr("x1", lx).attr("x2", lx + 52).attr("y1", ly).attr("y2", ly)
        .attr("stroke", s.color).attr("stroke-width", 4).attr("stroke-linecap", "round");
      legend.append("text").attr("x", lx + 58).attr("y", ly)
        .attr("dominant-baseline", "central").text(s.name);
    });
  }, []);

  return (
    <svg
      ref={ref}
      width={W}
      height={H}
      style={{ position: "absolute", left: 0, top: 0, display: "block" }}
    />
  );
}
